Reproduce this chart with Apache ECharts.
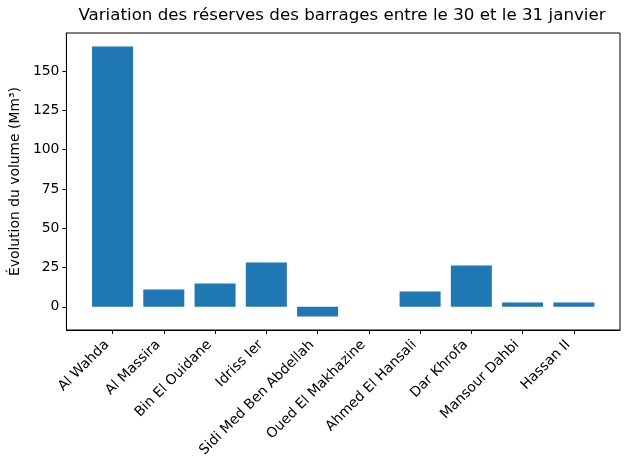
<!DOCTYPE html>
<html>
<head>
<meta charset="utf-8">
<script src="https://cdn.jsdelivr.net/npm/echarts@6/dist/echarts.min.js"></script>
<style>
  html, body { margin: 0; padding: 0; background: #fff; }
  #main { width: 630px; height: 470px; }
</style>
</head>
<body>
<div id="main"></div>
<script>
// barrages et variation du volume (Mm³)
const barrages = ['Al Wahda', 'Al Massira', 'Bin El Ouidane', 'Idriss Ier', 'Sidi Med Ben Abdellah',
    'Oued El Makhazine', 'Ahmed El Hansali', 'Dar Khrofa', 'Mansour Dahbi', 'Hassan II'];
const variations = [165.7, 11.0, 14.8, 28.1, -6.2, 0, 9.7, 26.2, 2.7, 2.7];
const yTicks = [0, 25, 50, 75, 100, 125, 150];

const font = 'DejaVu Sans';
let chart = echarts.init(document.getElementById('main'));

let barData = [];
for (let i = 0; i < variations.length; i++) {
    barData.push([i, variations[i]]);
}
let xTicks = barrages.map((b, i) => i);

var option = {
    animation: false,
    title: {
        text: 'Variation des réserves des barrages entre le 30 et le 31 janvier',
        left: 342,
        top: 7,
        padding: 0,
        textAlign: 'center',
        textStyle: { fontFamily: font, fontSize: 16.7, fontWeight: 'normal', color: '#000' }
    },
    grid: {
        left: 66, right: 10, top: 33, bottom: 140,
        show: true, borderColor: '#000', borderWidth: 1
    },
    xAxis: {
        type: 'value',
        min: -0.9,
        max: 9.9,
        splitLine: { show: false },
        axisLine: { onZero: false, lineStyle: { color: '#000' } },
        axisTick: { length: 4, customValues: xTicks, lineStyle: { color: '#000' } },
        axisLabel: {
            customValues: xTicks,
            rotate: 45,
            margin: 7,
            padding: [0, 8, 0, 0],
            fontFamily: font, fontSize: 13.9, color: '#000',
            formatter: v => barrages[Math.round(v)]
        }
    },
    yAxis: {
        type: 'value',
        min: -14.8,
        max: 174.3,
        name: 'Évolution du volume (Mm³)',
        nameLocation: 'middle',
        nameRotate: 90,
        nameGap: 38,
        nameTextStyle: { fontFamily: font, fontSize: 13.9, color: '#000' },
        splitLine: { show: false },
        axisLine: { show: true, onZero: false, lineStyle: { color: '#000' } },
        axisTick: { show: true, length: 4, customValues: yTicks, lineStyle: { color: '#000' } },
        axisLabel: {
            customValues: yTicks,
            margin: 7,
            fontFamily: font, fontSize: 13.9, color: '#000'
        }
    },
    series: [
        {
            type: 'bar',
            data: barData,
            barWidth: '80%',
            itemStyle: { color: '#1f77b4' }
        }
    ]
};

chart.setOption(option);
</script>
</body>
</html>
